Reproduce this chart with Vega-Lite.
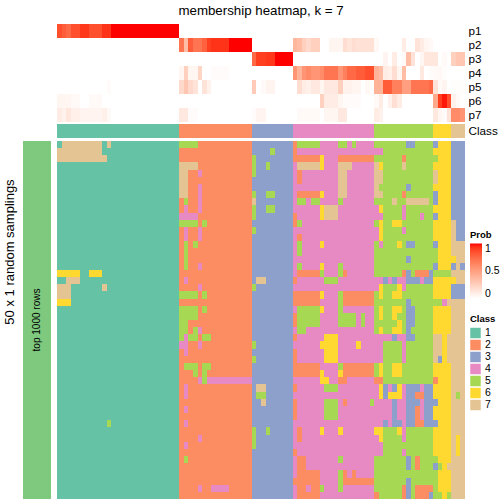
{"$schema":"https://vega.github.io/schema/vega-lite/v6.json","padding":{"left":3,"top":3,"right":0,"bottom":0},"bounds":"flush","align":"each","columns":2,"spacing":{"column":6,"row":2},"config":{"font":"Liberation Sans","view":{"stroke":null}},
"datasets":{"top":[
{"p":"p1","x0":0,"x1":1,"v":0.85},{"p":"p1","x0":1,"x1":2,"v":0.8},{"p":"p1","x0":2,"x1":3,"v":0.75},{"p":"p1","x0":3,"x1":5,"v":0.85},{"p":"p1","x0":5,"x1":7,"v":0.92},{"p":"p1","x0":7,"x1":10,"v":0.85},{"p":"p1","x0":10,"x1":12,"v":0.93},{"p":"p1","x0":12,"x1":27,"v":1},
{"p":"p2","x0":27,"x1":28,"v":0.7},{"p":"p2","x0":28,"x1":29,"v":0.35},{"p":"p2","x0":29,"x1":30,"v":0.8},{"p":"p2","x0":30,"x1":32,"v":0.7},{"p":"p2","x0":32,"x1":33,"v":0.78},{"p":"p2","x0":33,"x1":34,"v":0.9},{"p":"p2","x0":34,"x1":38,"v":0.93},{"p":"p2","x0":38,"x1":43,"v":1},{"p":"p2","x0":52,"x1":53,"v":0.38},{"p":"p2","x0":53,"x1":54,"v":0.35},{"p":"p2","x0":54,"x1":55,"v":0.25},{"p":"p2","x0":55,"x1":56,"v":0.2},{"p":"p2","x0":56,"x1":58,"v":0.25},{"p":"p2","x0":60,"x1":63,"v":0.05},{"p":"p2","x0":63,"x1":64,"v":0.18},{"p":"p2","x0":64,"x1":65,"v":0.14},{"p":"p2","x0":65,"x1":66,"v":0.18},{"p":"p2","x0":66,"x1":70,"v":0.16},{"p":"p2","x0":70,"x1":71,"v":0.04},{"p":"p2","x0":76,"x1":77,"v":0.1},{"p":"p2","x0":79,"x1":80,"v":0.15},{"p":"p2","x0":80,"x1":81,"v":0.1},{"p":"p2","x0":81,"x1":82,"v":0.05},{"p":"p2","x0":82,"x1":83,"v":0.03},
{"p":"p3","x0":43,"x1":44,"v":0.75},{"p":"p3","x0":44,"x1":46,"v":0.9},{"p":"p3","x0":46,"x1":48,"v":0.92},{"p":"p3","x0":48,"x1":52,"v":1},{"p":"p3","x0":72,"x1":73,"v":0.06},{"p":"p3","x0":74,"x1":75,"v":0.1},{"p":"p3","x0":76,"x1":77,"v":0.03},{"p":"p3","x0":77,"x1":78,"v":0.35},{"p":"p3","x0":78,"x1":79,"v":0.15},{"p":"p3","x0":80,"x1":81,"v":0.05},{"p":"p3","x0":81,"x1":84,"v":0.13},{"p":"p3","x0":85,"x1":86,"v":0.03},{"p":"p3","x0":87,"x1":88,"v":0.25},{"p":"p3","x0":88,"x1":90,"v":0.3},
{"p":"p4","x0":27,"x1":28,"v":0.05},{"p":"p4","x0":28,"x1":29,"v":0.25},{"p":"p4","x0":29,"x1":31,"v":0.05},{"p":"p4","x0":31,"x1":32,"v":0.22},{"p":"p4","x0":34,"x1":38,"v":0.02},{"p":"p4","x0":52,"x1":53,"v":0.55},{"p":"p4","x0":53,"x1":54,"v":0.4},{"p":"p4","x0":54,"x1":55,"v":0.55},{"p":"p4","x0":55,"x1":56,"v":0.6},{"p":"p4","x0":56,"x1":58,"v":0.55},{"p":"p4","x0":58,"x1":59,"v":0.6},{"p":"p4","x0":59,"x1":62,"v":0.7},{"p":"p4","x0":62,"x1":63,"v":0.55},{"p":"p4","x0":63,"x1":64,"v":0.65},{"p":"p4","x0":64,"x1":66,"v":0.75},{"p":"p4","x0":66,"x1":68,"v":0.8},{"p":"p4","x0":68,"x1":70,"v":0.85},{"p":"p4","x0":70,"x1":71,"v":0.4},{"p":"p4","x0":71,"x1":72,"v":0.35},{"p":"p4","x0":72,"x1":73,"v":0.1},{"p":"p4","x0":73,"x1":74,"v":0.08},{"p":"p4","x0":74,"x1":75,"v":0.18},{"p":"p4","x0":75,"x1":76,"v":0.05},{"p":"p4","x0":76,"x1":77,"v":0.35},{"p":"p4","x0":80,"x1":81,"v":0.12},{"p":"p4","x0":82,"x1":83,"v":0.02},{"p":"p4","x0":83,"x1":84,"v":0.03},{"p":"p4","x0":84,"x1":85,"v":0.04},{"p":"p4","x0":85,"x1":86,"v":0.01},
{"p":"p5","x0":11,"x1":12,"v":0.02},{"p":"p5","x0":27,"x1":28,"v":0.2},{"p":"p5","x0":28,"x1":29,"v":0.3},{"p":"p5","x0":29,"x1":30,"v":0.2},{"p":"p5","x0":30,"x1":31,"v":0.15},{"p":"p5","x0":32,"x1":33,"v":0.15},{"p":"p5","x0":33,"x1":34,"v":0.07},{"p":"p5","x0":43,"x1":44,"v":0.28},{"p":"p5","x0":45,"x1":46,"v":0.03},{"p":"p5","x0":46,"x1":48,"v":0.06},{"p":"p5","x0":53,"x1":54,"v":0.18},{"p":"p5","x0":54,"x1":55,"v":0.1},{"p":"p5","x0":55,"x1":56,"v":0.08},{"p":"p5","x0":56,"x1":58,"v":0.12},{"p":"p5","x0":58,"x1":59,"v":0.05},{"p":"p5","x0":59,"x1":62,"v":0.12},{"p":"p5","x0":62,"x1":63,"v":0.25},{"p":"p5","x0":63,"x1":65,"v":0.07},{"p":"p5","x0":65,"x1":67,"v":0.05},{"p":"p5","x0":68,"x1":69,"v":0.04},{"p":"p5","x0":70,"x1":72,"v":0.4},{"p":"p5","x0":72,"x1":74,"v":0.8},{"p":"p5","x0":74,"x1":76,"v":0.65},{"p":"p5","x0":76,"x1":78,"v":0.5},{"p":"p5","x0":78,"x1":82,"v":0.7},{"p":"p5","x0":82,"x1":83,"v":0.75},{"p":"p5","x0":83,"x1":84,"v":0.15},{"p":"p5","x0":84,"x1":85,"v":0.03},{"p":"p5","x0":85,"x1":86,"v":0.06},{"p":"p5","x0":87,"x1":90,"v":0.01},
{"p":"p6","x0":0,"x1":3,"v":0.05},{"p":"p6","x0":3,"x1":5,"v":0.03},{"p":"p6","x0":7,"x1":10,"v":0.03},{"p":"p6","x0":58,"x1":59,"v":0.25},{"p":"p6","x0":59,"x1":62,"v":0.1},{"p":"p6","x0":62,"x1":63,"v":0.05},{"p":"p6","x0":63,"x1":67,"v":0.02},{"p":"p6","x0":70,"x1":71,"v":0.03},{"p":"p6","x0":71,"x1":72,"v":0.1},{"p":"p6","x0":73,"x1":74,"v":0.07},{"p":"p6","x0":74,"x1":75,"v":0.17},{"p":"p6","x0":75,"x1":76,"v":0.1},{"p":"p6","x0":83,"x1":84,"v":0.45},{"p":"p6","x0":84,"x1":85,"v":0.9},{"p":"p6","x0":85,"x1":86,"v":0.98},{"p":"p6","x0":86,"x1":87,"v":0.85},{"p":"p6","x0":87,"x1":88,"v":0.07},{"p":"p6","x0":88,"x1":89,"v":0.03},
{"p":"p7","x0":0,"x1":1,"v":0.1},{"p":"p7","x0":1,"x1":2,"v":0.07},{"p":"p7","x0":2,"x1":3,"v":0.13},{"p":"p7","x0":3,"x1":5,"v":0.08},{"p":"p7","x0":5,"x1":10,"v":0.06},{"p":"p7","x0":10,"x1":11,"v":0.08},{"p":"p7","x0":11,"x1":12,"v":0.03},{"p":"p7","x0":27,"x1":29,"v":0.12},{"p":"p7","x0":29,"x1":31,"v":0.02},{"p":"p7","x0":43,"x1":44,"v":0.02},{"p":"p7","x0":44,"x1":46,"v":0.06},{"p":"p7","x0":53,"x1":58,"v":0.03},{"p":"p7","x0":59,"x1":62,"v":0.05},{"p":"p7","x0":62,"x1":64,"v":0.12},{"p":"p7","x0":70,"x1":71,"v":0.1},{"p":"p7","x0":71,"x1":72,"v":0.07},{"p":"p7","x0":83,"x1":84,"v":0.12},{"p":"p7","x0":84,"x1":85,"v":0.05},{"p":"p7","x0":85,"x1":86,"v":0.02},{"p":"p7","x0":86,"x1":87,"v":0.15},{"p":"p7","x0":87,"x1":89,"v":0.6},{"p":"p7","x0":89,"x1":90,"v":0.55}
],"cls":[{"x0":0,"x1":27,"k":1},{"x0":27,"x1":43,"k":2},{"x0":43,"x1":52,"k":3},{"x0":52,"x1":70,"k":4},{"x0":70,"x1":83,"k":5},{"x0":83,"x1":87,"k":6},{"x0":87,"x1":90,"k":7}],
"grid":[
{"x0":0,"x1":27,"y0":0,"y1":50,"k":1},{"x0":27,"x1":43,"y0":0,"y1":50,"k":2},{"x0":43,"x1":52,"y0":0,"y1":50,"k":3},{"x0":52,"x1":70,"y0":0,"y1":50,"k":4},{"x0":70,"x1":83,"y0":0,"y1":50,"k":5},{"x0":83,"x1":87,"y0":0,"y1":50,"k":6},{"x0":87,"x1":90,"y0":0,"y1":50,"k":7},
{"x0":1,"x1":10,"y0":0,"y1":1,"k":7},{"x0":11,"x1":12,"y0":0,"y1":1,"k":7},{"x0":0,"x1":10,"y0":1,"y1":2,"k":7},{"x0":0,"x1":11,"y0":2,"y1":3,"k":7},{"x0":0,"x1":5,"y0":18,"y1":19,"k":6},{"x0":7,"x1":10,"y0":18,"y1":19,"k":6},{"x0":2,"x1":5,"y0":19,"y1":20,"k":7},{"x0":0,"x1":3,"y0":20,"y1":22,"k":7},{"x0":10,"x1":11,"y0":20,"y1":21,"k":7},{"x0":0,"x1":3,"y0":22,"y1":23,"k":6},{"x0":11,"x1":12,"y0":39,"y1":40,"k":5},
{"x0":27,"x1":31,"y0":0,"y1":1,"k":5},{"x0":27,"x1":31,"y0":3,"y1":4,"k":7},{"x0":27,"x1":29,"y0":4,"y1":8,"k":7},{"x0":31,"x1":32,"y0":4,"y1":5,"k":4},{"x0":31,"x1":32,"y0":6,"y1":10,"k":4},{"x0":28,"x1":29,"y0":8,"y1":9,"k":5},{"x0":28,"x1":29,"y0":9,"y1":10,"k":4},{"x0":27,"x1":31,"y0":10,"y1":11,"k":4},{"x0":27,"x1":31,"y0":11,"y1":12,"k":5},{"x0":32,"x1":33,"y0":11,"y1":12,"k":5},{"x0":28,"x1":29,"y0":12,"y1":14,"k":4},{"x0":31,"x1":32,"y0":12,"y1":14,"k":4},{"x0":28,"x1":29,"y0":14,"y1":18,"k":5},{"x0":30,"x1":31,"y0":14,"y1":15,"k":5},{"x0":31,"x1":32,"y0":17,"y1":18,"k":4},{"x0":28,"x1":29,"y0":19,"y1":20,"k":4},{"x0":31,"x1":32,"y0":20,"y1":21,"k":4},{"x0":27,"x1":31,"y0":21,"y1":22,"k":5},{"x0":32,"x1":33,"y0":21,"y1":22,"k":5},{"x0":27,"x1":31,"y0":23,"y1":25,"k":5},{"x0":32,"x1":33,"y0":23,"y1":24,"k":5},{"x0":27,"x1":29,"y0":25,"y1":27,"k":5},{"x0":30,"x1":31,"y0":26,"y1":27,"k":5},{"x0":31,"x1":32,"y0":26,"y1":27,"k":4},{"x0":27,"x1":28,"y0":27,"y1":28,"k":5},{"x0":28,"x1":29,"y0":27,"y1":28,"k":4},{"x0":29,"x1":31,"y0":27,"y1":28,"k":5},{"x0":32,"x1":34,"y0":27,"y1":28,"k":5},{"x0":27,"x1":29,"y0":28,"y1":29,"k":4},{"x0":31,"x1":32,"y0":28,"y1":29,"k":4},{"x0":28,"x1":29,"y0":29,"y1":30,"k":4},{"x0":28,"x1":31,"y0":31,"y1":32,"k":5},{"x0":32,"x1":34,"y0":31,"y1":32,"k":5},{"x0":30,"x1":31,"y0":32,"y1":33,"k":5},{"x0":32,"x1":33,"y0":32,"y1":34,"k":5},{"x0":31,"x1":32,"y0":33,"y1":34,"k":4},{"x0":33,"x1":43,"y0":33,"y1":34,"k":4},{"x0":28,"x1":29,"y0":34,"y1":36,"k":4},{"x0":28,"x1":29,"y0":37,"y1":38,"k":4},{"x0":28,"x1":29,"y0":39,"y1":40,"k":4},{"x0":31,"x1":32,"y0":41,"y1":42,"k":4},{"x0":28,"x1":29,"y0":42,"y1":43,"k":4},{"x0":28,"x1":29,"y0":44,"y1":45,"k":5},{"x0":31,"x1":32,"y0":48,"y1":49,"k":4},{"x0":34,"x1":38,"y0":48,"y1":49,"k":4},
{"x0":47,"x1":48,"y0":1,"y1":2,"k":5},{"x0":43,"x1":44,"y0":2,"y1":5,"k":5},{"x0":46,"x1":47,"y0":3,"y1":4,"k":5},{"x0":43,"x1":44,"y0":7,"y1":8,"k":5},{"x0":46,"x1":48,"y0":7,"y1":8,"k":5},{"x0":43,"x1":44,"y0":8,"y1":9,"k":7},{"x0":43,"x1":44,"y0":9,"y1":11,"k":5},{"x0":46,"x1":48,"y0":9,"y1":10,"k":5},{"x0":43,"x1":44,"y0":12,"y1":13,"k":5},{"x0":44,"x1":46,"y0":19,"y1":20,"k":7},{"x0":43,"x1":44,"y0":20,"y1":21,"k":5},{"x0":43,"x1":44,"y0":28,"y1":29,"k":5},{"x0":43,"x1":44,"y0":30,"y1":31,"k":5},{"x0":44,"x1":46,"y0":34,"y1":35,"k":7},{"x0":44,"x1":46,"y0":35,"y1":36,"k":5},{"x0":45,"x1":46,"y0":36,"y1":37,"k":7},{"x0":43,"x1":44,"y0":40,"y1":43,"k":5},{"x0":46,"x1":47,"y0":40,"y1":41,"k":5},
{"x0":53,"x1":58,"y0":0,"y1":1,"k":5},{"x0":62,"x1":64,"y0":0,"y1":1,"k":5},{"x0":65,"x1":66,"y0":0,"y1":1,"k":5},{"x0":52,"x1":53,"y0":0,"y1":2,"k":2},{"x0":52,"x1":58,"y0":2,"y1":3,"k":2},{"x0":58,"x1":59,"y0":2,"y1":4,"k":6},{"x0":62,"x1":70,"y0":2,"y1":3,"k":2},{"x0":53,"x1":58,"y0":3,"y1":4,"k":7},{"x0":62,"x1":65,"y0":3,"y1":4,"k":7},{"x0":53,"x1":54,"y0":4,"y1":6,"k":2},{"x0":62,"x1":64,"y0":4,"y1":8,"k":7},{"x0":53,"x1":58,"y0":7,"y1":8,"k":2},{"x0":58,"x1":59,"y0":7,"y1":8,"k":6},{"x0":53,"x1":55,"y0":8,"y1":9,"k":5},{"x0":56,"x1":58,"y0":8,"y1":9,"k":5},{"x0":62,"x1":63,"y0":8,"y1":9,"k":5},{"x0":58,"x1":59,"y0":9,"y1":11,"k":6},{"x0":59,"x1":62,"y0":9,"y1":11,"k":7},{"x0":52,"x1":53,"y0":10,"y1":12,"k":2},{"x0":53,"x1":54,"y0":11,"y1":12,"k":5},{"x0":53,"x1":54,"y0":13,"y1":14,"k":2},{"x0":53,"x1":54,"y0":14,"y1":16,"k":5},{"x0":58,"x1":59,"y0":14,"y1":15,"k":6},{"x0":53,"x1":54,"y0":17,"y1":18,"k":5},{"x0":58,"x1":59,"y0":17,"y1":18,"k":6},{"x0":62,"x1":63,"y0":17,"y1":18,"k":5},{"x0":53,"x1":58,"y0":18,"y1":19,"k":2},{"x0":58,"x1":59,"y0":18,"y1":19,"k":5},{"x0":62,"x1":63,"y0":18,"y1":19,"k":5},{"x0":63,"x1":64,"y0":18,"y1":19,"k":2},{"x0":52,"x1":53,"y0":19,"y1":20,"k":2},{"x0":59,"x1":62,"y0":19,"y1":20,"k":5},{"x0":52,"x1":58,"y0":21,"y1":23,"k":2},{"x0":58,"x1":59,"y0":21,"y1":22,"k":6},{"x0":62,"x1":63,"y0":21,"y1":24,"k":5},{"x0":63,"x1":70,"y0":21,"y1":23,"k":2},{"x0":53,"x1":58,"y0":23,"y1":26,"k":5},{"x0":58,"x1":59,"y0":23,"y1":24,"k":6},{"x0":52,"x1":53,"y0":24,"y1":26,"k":2},{"x0":62,"x1":66,"y0":24,"y1":26,"k":5},{"x0":67,"x1":68,"y0":24,"y1":26,"k":5},{"x0":53,"x1":55,"y0":26,"y1":27,"k":5},{"x0":52,"x1":53,"y0":27,"y1":28,"k":2},{"x0":59,"x1":62,"y0":27,"y1":31,"k":6},{"x0":58,"x1":59,"y0":28,"y1":29,"k":6},{"x0":66,"x1":67,"y0":28,"y1":29,"k":6},{"x0":52,"x1":53,"y0":29,"y1":31,"k":2},{"x0":52,"x1":58,"y0":31,"y1":33,"k":2},{"x0":62,"x1":63,"y0":31,"y1":32,"k":5},{"x0":63,"x1":70,"y0":31,"y1":33,"k":2},{"x0":58,"x1":59,"y0":32,"y1":33,"k":6},{"x0":62,"x1":63,"y0":32,"y1":33,"k":6},{"x0":58,"x1":60,"y0":33,"y1":34,"k":6},{"x0":62,"x1":64,"y0":33,"y1":34,"k":2},{"x0":52,"x1":53,"y0":34,"y1":35,"k":2},{"x0":59,"x1":62,"y0":34,"y1":35,"k":5},{"x0":52,"x1":53,"y0":36,"y1":39,"k":2},{"x0":59,"x1":62,"y0":36,"y1":39,"k":5},{"x0":63,"x1":64,"y0":36,"y1":37,"k":2},{"x0":69,"x1":70,"y0":36,"y1":37,"k":5},{"x0":53,"x1":54,"y0":40,"y1":42,"k":2},{"x0":58,"x1":59,"y0":40,"y1":41,"k":6},{"x0":62,"x1":63,"y0":40,"y1":41,"k":6},{"x0":52,"x1":53,"y0":43,"y1":44,"k":2},{"x0":53,"x1":55,"y0":44,"y1":46,"k":2},{"x0":62,"x1":63,"y0":44,"y1":45,"k":5},{"x0":53,"x1":58,"y0":46,"y1":47,"k":2},{"x0":62,"x1":63,"y0":46,"y1":49,"k":5},{"x0":63,"x1":64,"y0":46,"y1":47,"k":2},{"x0":65,"x1":66,"y0":46,"y1":47,"k":2},{"x0":52,"x1":58,"y0":47,"y1":48,"k":2},{"x0":63,"x1":70,"y0":47,"y1":48,"k":2},{"x0":53,"x1":55,"y0":48,"y1":49,"k":2},{"x0":56,"x1":58,"y0":48,"y1":49,"k":2},{"x0":58,"x1":59,"y0":48,"y1":49,"k":5},{"x0":53,"x1":58,"y0":49,"y1":50,"k":2},
{"x0":77,"x1":79,"y0":0,"y1":1,"k":3},{"x0":70,"x1":72,"y0":1,"y1":2,"k":4},{"x0":76,"x1":77,"y0":2,"y1":3,"k":2},{"x0":70,"x1":71,"y0":3,"y1":4,"k":7},{"x0":71,"x1":72,"y0":3,"y1":4,"k":6},{"x0":76,"x1":77,"y0":3,"y1":4,"k":7},{"x0":70,"x1":72,"y0":4,"y1":6,"k":7},{"x0":70,"x1":71,"y0":6,"y1":7,"k":7},{"x0":77,"x1":78,"y0":6,"y1":7,"k":3},{"x0":70,"x1":72,"y0":7,"y1":8,"k":7},{"x0":76,"x1":77,"y0":7,"y1":8,"k":2},{"x0":74,"x1":75,"y0":8,"y1":9,"k":7},{"x0":77,"x1":82,"y0":8,"y1":9,"k":7},{"x0":70,"x1":71,"y0":9,"y1":10,"k":4},{"x0":71,"x1":72,"y0":9,"y1":10,"k":6},{"x0":76,"x1":77,"y0":9,"y1":11,"k":4},{"x0":70,"x1":72,"y0":10,"y1":11,"k":4},{"x0":80,"x1":81,"y0":10,"y1":11,"k":4},{"x0":71,"x1":72,"y0":11,"y1":14,"k":6},{"x0":74,"x1":76,"y0":11,"y1":12,"k":6},{"x0":70,"x1":71,"y0":12,"y1":14,"k":4},{"x0":76,"x1":77,"y0":12,"y1":13,"k":4},{"x0":71,"x1":72,"y0":14,"y1":15,"k":4},{"x0":75,"x1":76,"y0":14,"y1":15,"k":6},{"x0":77,"x1":79,"y0":14,"y1":15,"k":3},{"x0":77,"x1":78,"y0":16,"y1":17,"k":3},{"x0":76,"x1":77,"y0":18,"y1":19,"k":2},{"x0":77,"x1":78,"y0":18,"y1":19,"k":3},{"x0":79,"x1":82,"y0":18,"y1":19,"k":2},{"x0":82,"x1":83,"y0":18,"y1":19,"k":3},{"x0":70,"x1":72,"y0":19,"y1":20,"k":4},{"x0":72,"x1":73,"y0":19,"y1":20,"k":3},{"x0":73,"x1":74,"y0":19,"y1":20,"k":4},{"x0":74,"x1":75,"y0":19,"y1":20,"k":3},{"x0":75,"x1":77,"y0":19,"y1":20,"k":4},{"x0":77,"x1":80,"y0":19,"y1":20,"k":3},{"x0":80,"x1":81,"y0":19,"y1":20,"k":4},{"x0":81,"x1":83,"y0":19,"y1":20,"k":3},{"x0":70,"x1":71,"y0":20,"y1":21,"k":4},{"x0":71,"x1":72,"y0":20,"y1":22,"k":6},{"x0":75,"x1":76,"y0":20,"y1":21,"k":6},{"x0":76,"x1":77,"y0":20,"y1":21,"k":4},{"x0":74,"x1":76,"y0":21,"y1":22,"k":6},{"x0":77,"x1":78,"y0":22,"y1":23,"k":3},{"x0":71,"x1":72,"y0":23,"y1":25,"k":6},{"x0":74,"x1":76,"y0":23,"y1":24,"k":6},{"x0":77,"x1":79,"y0":23,"y1":26,"k":3},{"x0":74,"x1":75,"y0":24,"y1":25,"k":6},{"x0":75,"x1":76,"y0":25,"y1":26,"k":6},{"x0":71,"x1":72,"y0":26,"y1":27,"k":6},{"x0":74,"x1":76,"y0":26,"y1":27,"k":6},{"x0":77,"x1":78,"y0":26,"y1":27,"k":3},{"x0":70,"x1":74,"y0":27,"y1":28,"k":4},{"x0":74,"x1":75,"y0":27,"y1":28,"k":3},{"x0":75,"x1":77,"y0":27,"y1":28,"k":4},{"x0":77,"x1":79,"y0":27,"y1":28,"k":3},{"x0":70,"x1":72,"y0":28,"y1":31,"k":4},{"x0":76,"x1":77,"y0":28,"y1":31,"k":4},{"x0":71,"x1":72,"y0":31,"y1":33,"k":6},{"x0":74,"x1":76,"y0":31,"y1":33,"k":6},{"x0":70,"x1":72,"y0":33,"y1":34,"k":2},{"x0":70,"x1":71,"y0":34,"y1":36,"k":4},{"x0":71,"x1":72,"y0":34,"y1":36,"k":6},{"x0":72,"x1":73,"y0":34,"y1":36,"k":3},{"x0":73,"x1":74,"y0":34,"y1":35,"k":4},{"x0":74,"x1":75,"y0":34,"y1":35,"k":3},{"x0":75,"x1":76,"y0":34,"y1":35,"k":6},{"x0":73,"x1":76,"y0":35,"y1":36,"k":6},{"x0":76,"x1":77,"y0":34,"y1":36,"k":4},{"x0":77,"x1":80,"y0":34,"y1":36,"k":3},{"x0":80,"x1":81,"y0":34,"y1":35,"k":4},{"x0":81,"x1":83,"y0":34,"y1":36,"k":3},{"x0":79,"x1":81,"y0":35,"y1":36,"k":2},{"x0":70,"x1":74,"y0":36,"y1":39,"k":4},{"x0":74,"x1":75,"y0":36,"y1":39,"k":3},{"x0":75,"x1":77,"y0":36,"y1":39,"k":4},{"x0":77,"x1":79,"y0":36,"y1":40,"k":3},{"x0":79,"x1":80,"y0":36,"y1":37,"k":3},{"x0":79,"x1":80,"y0":37,"y1":39,"k":2},{"x0":80,"x1":81,"y0":36,"y1":39,"k":4},{"x0":81,"x1":83,"y0":36,"y1":39,"k":3},{"x0":70,"x1":72,"y0":39,"y1":40,"k":4},{"x0":72,"x1":73,"y0":39,"y1":40,"k":3},{"x0":73,"x1":74,"y0":39,"y1":40,"k":4},{"x0":74,"x1":76,"y0":39,"y1":40,"k":3},{"x0":76,"x1":77,"y0":39,"y1":40,"k":4},{"x0":79,"x1":81,"y0":39,"y1":40,"k":2},{"x0":81,"x1":83,"y0":39,"y1":40,"k":3},{"x0":70,"x1":72,"y0":40,"y1":41,"k":6},{"x0":75,"x1":76,"y0":40,"y1":41,"k":6},{"x0":76,"x1":77,"y0":40,"y1":42,"k":4},{"x0":70,"x1":71,"y0":41,"y1":42,"k":4},{"x0":71,"x1":72,"y0":41,"y1":42,"k":6},{"x0":70,"x1":72,"y0":42,"y1":44,"k":4},{"x0":76,"x1":77,"y0":43,"y1":44,"k":4},{"x0":77,"x1":78,"y0":44,"y1":46,"k":3},{"x0":79,"x1":80,"y0":44,"y1":46,"k":2},{"x0":77,"x1":78,"y0":47,"y1":50,"k":3},{"x0":76,"x1":77,"y0":48,"y1":50,"k":2},{"x0":79,"x1":83,"y0":48,"y1":49,"k":2},{"x0":70,"x1":71,"y0":49,"y1":50,"k":2},{"x0":79,"x1":82,"y0":49,"y1":50,"k":2},{"x0":82,"x1":83,"y0":49,"y1":50,"k":3},
{"x0":83,"x1":84,"y0":0,"y1":1,"k":3},{"x0":83,"x1":84,"y0":2,"y1":3,"k":5},{"x0":83,"x1":84,"y0":4,"y1":6,"k":7},{"x0":83,"x1":84,"y0":7,"y1":9,"k":3},{"x0":83,"x1":84,"y0":10,"y1":11,"k":3},{"x0":83,"x1":84,"y0":14,"y1":15,"k":3},{"x0":83,"x1":84,"y0":15,"y1":17,"k":5},{"x0":83,"x1":84,"y0":17,"y1":18,"k":3},{"x0":83,"x1":87,"y0":18,"y1":19,"k":5},{"x0":83,"x1":85,"y0":22,"y1":23,"k":5},{"x0":85,"x1":86,"y0":22,"y1":23,"k":4},{"x0":86,"x1":87,"y0":22,"y1":23,"k":7},{"x0":83,"x1":85,"y0":27,"y1":31,"k":7},{"x0":86,"x1":87,"y0":27,"y1":31,"k":7},{"x0":84,"x1":85,"y0":30,"y1":31,"k":3},{"x0":83,"x1":84,"y0":33,"y1":34,"k":2},{"x0":83,"x1":84,"y0":36,"y1":37,"k":3},{"x0":83,"x1":84,"y0":39,"y1":40,"k":3},{"x0":83,"x1":84,"y0":44,"y1":45,"k":5},{"x0":83,"x1":84,"y0":45,"y1":46,"k":3},{"x0":84,"x1":85,"y0":45,"y1":46,"k":5},{"x0":86,"x1":87,"y0":45,"y1":46,"k":7},{"x0":83,"x1":84,"y0":46,"y1":49,"k":5},{"x0":83,"x1":85,"y0":49,"y1":50,"k":5},{"x0":86,"x1":87,"y0":49,"y1":50,"k":5},
{"x0":87,"x1":90,"y0":0,"y1":11,"k":3},{"x0":88,"x1":90,"y0":11,"y1":14,"k":3},{"x0":87,"x1":88,"y0":16,"y1":17,"k":6},{"x0":87,"x1":88,"y0":17,"y1":18,"k":3},{"x0":89,"x1":90,"y0":17,"y1":18,"k":3},{"x0":87,"x1":88,"y0":19,"y1":20,"k":6},{"x0":87,"x1":90,"y0":20,"y1":22,"k":3},{"x0":88,"x1":89,"y0":35,"y1":36,"k":5},{"x0":88,"x1":89,"y0":41,"y1":44,"k":6}
]},
"concat":[
{"width":28,"height":98,"data":{"values":[]},"mark":{"type":"rect"},"encoding":{}},
{"width":408,"height":98,"title":{"text":"membership heatmap, k = 7","fontSize":13.3,"fontWeight":"normal","anchor":"middle","color":"#000","offset":7},"data":{"name":"top"},"mark":"rect","encoding":{"x":{"field":"x0","type":"quantitative","scale":{"domain":[0,90],"nice":false,"zero":false,"round":true},"axis":null},"x2":{"field":"x1"},"y":{"field":"p","type":"nominal","scale":{"domain":["p1","p2","p3","p4","p5","p6","p7"],"paddingInner":0,"paddingOuter":0},"axis":{"orient":"right","title":null,"domain":false,"ticks":false,"labelFontSize":11.7,"labelColor":"#000","labelPadding":3}},"color":{"field":"v","type":"quantitative","scale":{"domain":[0,1],"range":["#ffffff","#ff0000"],"interpolate":"lab"},"legend":{"orient":"none","legendX":413,"legendY":206,"title":"Prob","titleFontSize":9.5,"titleFontWeight":"bold","titleColor":"#000","titlePadding":4,"gradientLength":55,"gradientThickness":12,"values":[0,0.5,1],"format":"~g","labelFontSize":10.5,"labelColor":"#000","labelOffset":3,"gradientStrokeWidth":0}}}},
{"width":28,"height":14,"data":{"values":[]},"mark":{"type":"rect"},"encoding":{}},
{"width":408,"height":14,"data":{"name":"cls"},"mark":"rect","encoding":{"x":{"field":"x0","type":"quantitative","scale":{"domain":[0,90],"nice":false,"zero":false,"round":true},"axis":null},"x2":{"field":"x1"},"y":{"datum":"Class","type":"nominal","axis":{"orient":"right","title":null,"domain":false,"ticks":false,"labelFontSize":11.7,"labelColor":"#000","labelPadding":3}},"color":{"field":"k","type":"nominal","scale":{"domain":[1,2,3,4,5,6,7],"range":["#66C2A5","#FC8D62","#8DA0CB","#E78AC3","#A6D854","#FFD92F","#E5C494"]},"legend":null}}},
{"width":28,"height":359,"data":{"values":[{"x0":0,"x1":1,"y0":0,"y1":50,"xm":0.5,"ym":25,"t":"top 1000 rows"}]},
"layer":[
{"mark":{"type":"rect","color":"#7FC97F"},"encoding":{"x":{"field":"x0","type":"quantitative","scale":{"domain":[0,1],"nice":false,"zero":false},"axis":null},"x2":{"field":"x1"},"y":{"field":"y0","type":"quantitative","scale":{"domain":[50,-0.14],"nice":false,"zero":false},"axis":{"title":"50 x 1 random samplings","titleFontSize":13,"titleFontWeight":"normal","titleColor":"#000","labels":false,"ticks":false,"domain":false,"grid":false,"titleY":111.5,"titlePadding":7}},"y2":{"field":"y1"}}},
{"mark":{"type":"text","angle":270,"fontSize":10,"align":"center","baseline":"middle","color":"#000"},"encoding":{"x":{"field":"xm","type":"quantitative"},"y":{"field":"ym","type":"quantitative"},"text":{"field":"t"}}}
]},
{"width":408,"height":359,"data":{"name":"grid"},"mark":"rect","encoding":{"x":{"field":"x0","type":"quantitative","scale":{"domain":[0,90],"nice":false,"zero":false,"round":true},"axis":null},"x2":{"field":"x1"},"y":{"field":"y0","type":"quantitative","scale":{"domain":[50,-0.14],"nice":false,"zero":false,"round":true},"axis":null},"y2":{"field":"y1"},"color":{"field":"k","type":"nominal","scale":{"domain":[1,2,3,4,5,6,7],"range":["#66C2A5","#FC8D62","#8DA0CB","#E78AC3","#A6D854","#FFD92F","#E5C494"]},"legend":{"orient":"none","legendX":413,"legendY":174,"title":"Class","titleFontSize":9.5,"titleFontWeight":"bold","titleColor":"#000","titlePadding":4,"symbolType":"square","symbolSize":110,"symbolStrokeWidth":0,"symbolOpacity":1,"labelFontSize":10.5,"labelColor":"#000","rowPadding":1,"labelOffset":4}}}}
]}
